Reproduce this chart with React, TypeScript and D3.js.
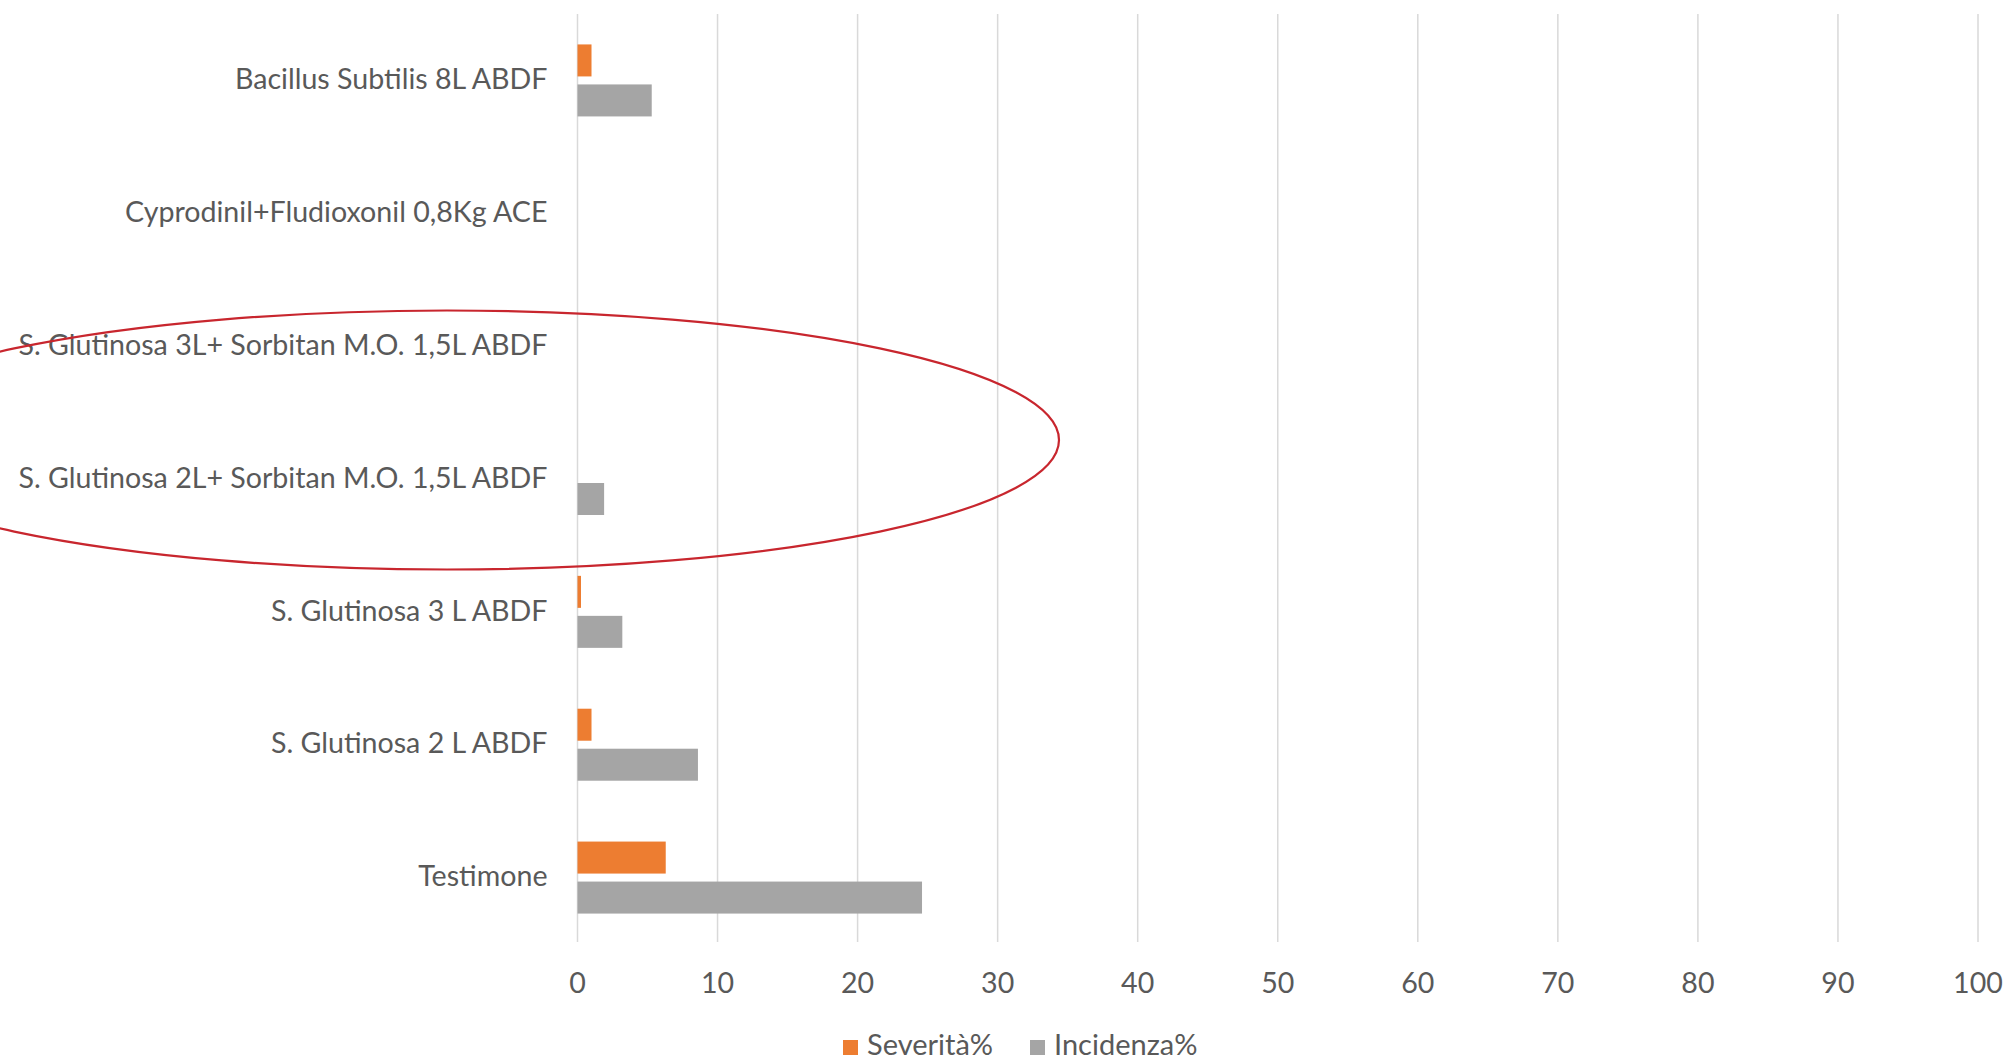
import React from "react";
import * as d3 from "d3";

const categories = [
  "Bacillus Subtilis 8L ABDF",
  "Cyprodinil+Fludioxonil 0,8Kg ACE",
  "S. Glutinosa 3L+ Sorbitan M.O. 1,5L ABDF",
  "S. Glutinosa 2L+ Sorbitan M.O. 1,5L ABDF",
  "S. Glutinosa 3 L ABDF",
  "S. Glutinosa 2 L ABDF",
  "Testimone",
];
const severita = [1.0, 0, 0, 0, 0.25, 1.0, 6.3];
const incidenza = [5.3, 0, 0, 1.9, 3.2, 8.6, 24.6];
const seriesNames = ["Severità%", "Incidenza%"];
const seriesColors = ["#ED7D31", "#A5A5A5"];
const xTicks = [0, 10, 20, 30, 40, 50, 60, 70, 80, 90, 100];

const W = 2011;
const H = 1061;
const FONT = "Lato, 'Open Sans', sans-serif";
const TEXT = "#595959";

export default function App() {
  const x = d3.scaleLinear().domain([0, 100]).range([577.5, 1978]);
  const y0 = d3
    .scaleBand<string>()
    .domain(categories)
    .range([14, 944])
    .paddingInner(0.458)
    .paddingOuter(0.229);
  const y1 = d3
    .scaleBand<string>()
    .domain(seriesNames)
    .range([0, y0.bandwidth()])
    .paddingInner(0.2);
  const seriesValues = [severita, incidenza];

  return (
    <div style={{ position: "absolute", left: 0, top: 0 }}>
      <svg width={W} height={H} style={{ display: "block", background: "#fff" }}>
        {xTicks.map((t) => (
          <line
            key={"g" + t}
            x1={x(t)}
            x2={x(t)}
            y1={14}
            y2={942}
            stroke="#D9D9D9"
            strokeWidth={1.5}
          />
        ))}
        {categories.map((c, i) => (
          <g key={c} transform={`translate(0,${y0(c)})`}>
            {seriesNames.map((s, j) => {
              const v = seriesValues[j][i];
              if (v <= 0) return null;
              return (
                <rect
                  key={s}
                  x={x(0)}
                  y={y1(s)}
                  width={x(v) - x(0)}
                  height={y1.bandwidth()}
                  fill={seriesColors[j]}
                />
              );
            })}
          </g>
        ))}
        {categories.map((c) => (
          <text
            key={"l" + c}
            x={x(0) - 30}
            y={(y0(c) ?? 0) + y0.bandwidth() / 2 + 1.5}
            textAnchor="end"
            dominantBaseline="middle"
            fontFamily={FONT}
            fontSize={28.6}
            fill={TEXT}
          >
            {c}
          </text>
        ))}
        {xTicks.map((t) => (
          <text
            key={"t" + t}
            x={x(t)}
            y={986}
            textAnchor="middle"
            dominantBaseline="middle"
            fontFamily={FONT}
            fontSize={28.6}
            fill={TEXT}
          >
            {t}
          </text>
        ))}
        <g>
          <rect x={843} y={1040} width={15} height={15} fill={seriesColors[0]} />
          <text x={867} y={1048} dominantBaseline="middle" fontFamily={FONT} fontSize={29} fill={TEXT}>
            {seriesNames[0]}
          </text>
          <rect x={1030} y={1040} width={15} height={15} fill={seriesColors[1]} />
          <text x={1054} y={1048} dominantBaseline="middle" fontFamily={FONT} fontSize={29} fill={TEXT}>
            {seriesNames[1]}
          </text>
        </g>
        <ellipse cx={447} cy={440} rx={612} ry={129.5} fill="none" stroke="#C8262E" strokeWidth={2.2} />
      </svg>
    </div>
  );
}
